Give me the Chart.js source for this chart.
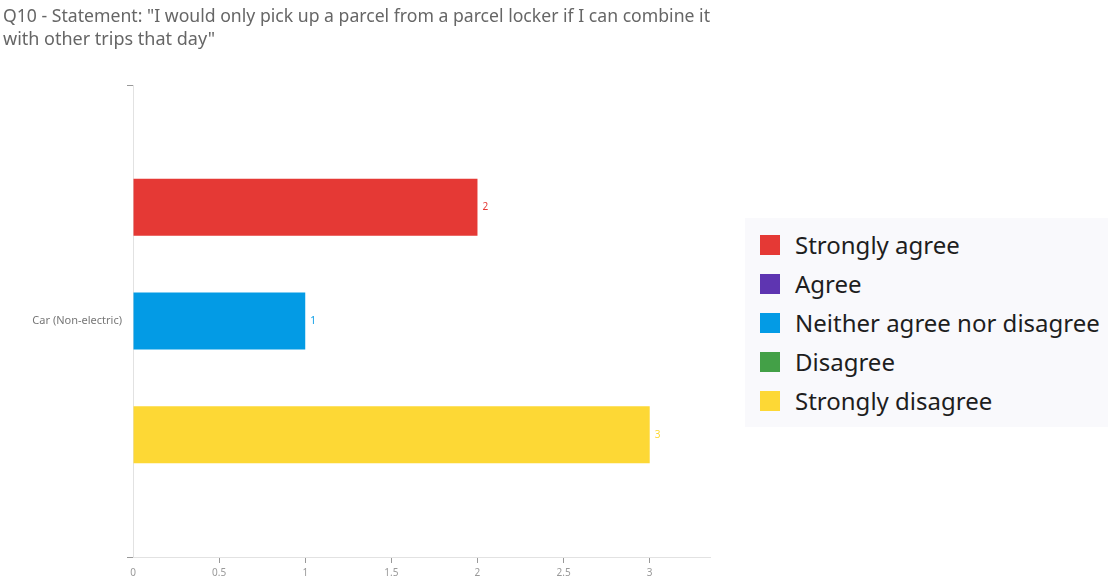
<!DOCTYPE html>
<html>
<head>
<meta charset="utf-8">
<script src="https://cdn.jsdelivr.net/npm/chart.js@4.4.0/dist/chart.umd.min.js"></script>
<style>
  html, body { margin: 0; padding: 0; background: #fff; }
  #wrap { position: relative; width: 1108px; height: 583px; }
  #legend {
    position: absolute; left: 745px; top: 218px; width: 363px; height: 209px;
    background: #f9f9fc; box-sizing: border-box; padding: 7px 0 0 15px;
    font-family: "Noto Sans", sans-serif; font-size: 24px; color: #1e1e1e;
  }
  .item { display: flex; align-items: center; height: 39px; }
  .swatch { width: 20px; height: 20px; margin-right: 15px; }
</style>
</head>
<body>
<div id="wrap">
  <canvas id="chart" width="1108" height="583"></canvas>
  <div id="legend"></div>
</div>
<script>
const titleLines = ['Q10 - Statement: "I would only pick up a parcel from a parcel locker if I can combine it', 'with other trips that day"'];
const categories = ['Car (Non-electric)'];
const answers = ['Strongly agree', 'Agree', 'Neither agree nor disagree', 'Disagree', 'Strongly disagree'];
const colors = ['#e53935', '#5e35b1', '#039be5', '#43a047', '#fdd835'];
// one value per category; null = no responses, so no bar slot
const counts = [[2], [null], [1], [null], [3]];
const xTicks = [0, 0.5, 1, 1.5, 2, 2.5, 3];

// value label at the end of each bar, in the bar's colour
const barValues = {
    id: 'barValues',
    afterDatasetsDraw(chart) {
        const ctx = chart.ctx;
        ctx.save();
        ctx.font = '10px "Noto Sans", sans-serif';
        ctx.textBaseline = 'middle';
        chart.data.datasets.forEach((ds, i) => {
            chart.getDatasetMeta(i).data.forEach((bar, j) => {
                if (ds.data[j] == null) return;
                ctx.fillStyle = ds.backgroundColor;
                ctx.fillText(ds.data[j], bar.x + 5, bar.y);
            });
        });
        ctx.restore();
    }
};

const datasets = answers.map((label, i) => ({
    label: label,
    data: counts[i],
    backgroundColor: colors[i],
    skipNull: true,
    categoryPercentage: 0.723,
    barPercentage: 0.5
}));

new Chart(document.getElementById('chart'), {
    type: 'bar',
    data: { labels: categories, datasets: datasets },
    plugins: [barValues],
    options: {
        responsive: false,
        animation: false,
        indexAxis: 'y',
        layout: { padding: { left: 3, right: 398, bottom: 0 } },
        plugins: {
            legend: { display: false },
            tooltip: { enabled: false },
            title: {
                display: true,
                align: 'start',
                text: titleLines,
                color: '#666',
                font: { family: '"Noto Sans", sans-serif', size: 18, weight: 'normal', lineHeight: 1.28 },
                padding: { top: 5, bottom: 34 }
            }
        },
        scales: {
            x: {
                min: 0,
                max: 3.35,
                afterBuildTicks: (scale) => { scale.ticks = xTicks.map(v => ({ value: v })); },
                grid: {
                    drawOnChartArea: false,
                    tickLength: 6,
                    color: (c) => c.tick && c.tick.value === 0 ? 'rgba(0,0,0,0)' : '#999'
                },
                border: { color: '#e2e2e2' },
                ticks: {
                    color: '#999',
                    padding: 4,
                    font: { family: '"Noto Sans", sans-serif', size: 10 },
                    callback: (v) => String(v)
                }
            },
            y: {
                afterFit: (scale) => { scale.width = 130; },
                grid: { drawOnChartArea: false, tickLength: 6, color: '#999' },
                border: { color: '#e2e2e2' },
                ticks: { color: '#777', padding: 5, font: { family: '"Noto Sans", sans-serif', size: 11 } }
            }
        }
    }
});

// legend lists every answer option, including ones without responses
const legendEl = document.getElementById('legend');
answers.forEach((label, i) => {
    const item = document.createElement('div');
    item.className = 'item';
    const sw = document.createElement('span');
    sw.className = 'swatch';
    sw.style.background = colors[i];
    item.appendChild(sw);
    item.appendChild(document.createTextNode(label));
    legendEl.appendChild(item);
});
</script>
</body>
</html>
